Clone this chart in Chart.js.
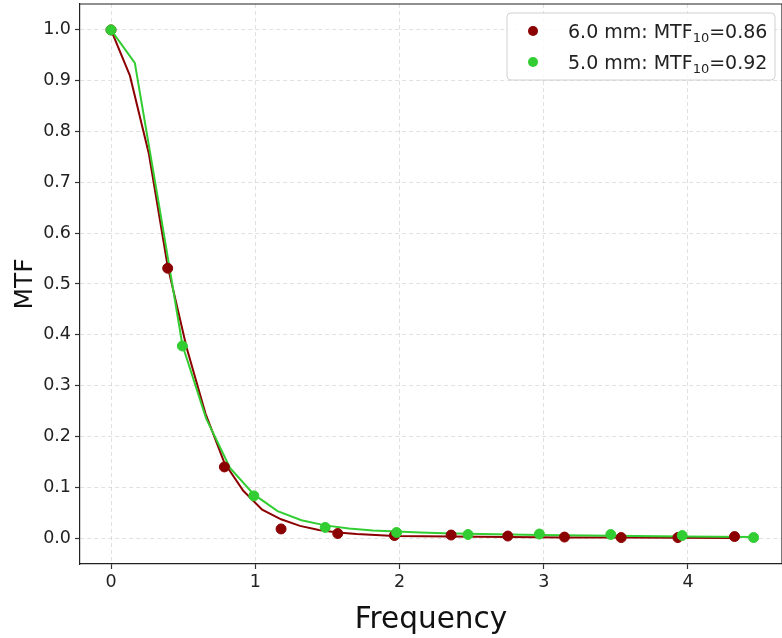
<!DOCTYPE html>
<html>
<head>
<meta charset="utf-8">
<script src="https://cdn.jsdelivr.net/npm/chart.js@4.4.0/dist/chart.umd.min.js"></script>
<style>
html,body{margin:0;padding:0;background:#fff;}
#wrap{width:782px;height:638px;}
</style>
</head>
<body>
<div id="wrap"><canvas id="c" width="782" height="638"></canvas></div>
<script>
// ---- data ----
const label6 = "6.0 mm: MTF\u2081\u2080=0.86";
const label5 = "5.0 mm: MTF\u2081\u2080=0.92";

const pts6X = [0, 0.393, 0.786, 1.179, 1.572, 1.965, 2.358, 2.751, 3.144, 3.537, 3.930, 4.323];
const pts6Y = [1.0, 0.531, 0.140, 0.018, 0.009, 0.005, 0.006, 0.004, 0.002, 0.001, 0.001, 0.003];

const pts5X = [0, 0.495, 0.990, 1.485, 1.980, 2.475, 2.970, 3.465, 3.960, 4.455];
const pts5Y = [1.0, 0.378, 0.083, 0.021, 0.011, 0.007, 0.008, 0.007, 0.005, 0.001];

const fit6X = [0, 0.131, 0.262, 0.393, 0.524, 0.655, 0.786, 0.917, 1.048, 1.179, 1.310, 1.441, 1.572, 1.703, 1.834, 1.965, 2.358, 2.751, 3.144, 3.537, 3.930, 4.323];
const fit6Y = [1.0, 0.910, 0.757, 0.535, 0.375, 0.245, 0.148, 0.093, 0.056, 0.037, 0.024, 0.016, 0.011, 0.008, 0.006, 0.004, 0.003, 0.002, 0.001, 0.001, 0.0005, 0.0003];

const fit5X = [0, 0.165, 0.330, 0.495, 0.660, 0.825, 0.990, 1.155, 1.320, 1.485, 1.650, 1.815, 1.980, 2.145, 2.310, 2.475, 2.970, 3.465, 3.960, 4.455];
const fit5Y = [1.0, 0.935, 0.660, 0.380, 0.235, 0.138, 0.086, 0.053, 0.035, 0.025, 0.019, 0.015, 0.013, 0.011, 0.0095, 0.0085, 0.006, 0.0045, 0.003, 0.002];

const xTicks = [0, 1, 2, 3, 4];
const yTicks = [0.0, 0.1, 0.2, 0.3, 0.4, 0.5, 0.6, 0.7, 0.8, 0.9, 1.0];

const RED = '#8B0000';
const GREEN = '#32CD32';

const zip = (xs, ys) => xs.map((x, i) => ({x: x, y: ys[i]}));

const framePlugin = {
  id: 'frame',
  afterDraw(chart) {
    const {ctx, chartArea: a} = chart;
    ctx.save();
    ctx.strokeStyle = '#222';
    ctx.lineWidth = 1.2;
    ctx.beginPath();
    ctx.moveTo(a.left, a.top);
    ctx.lineTo(a.right, a.top);
    ctx.lineTo(a.right, a.bottom);
    ctx.stroke();
    ctx.restore();
  }
};

const SUB = '\u2080\u2081\u2082\u2083\u2084\u2085\u2086\u2087\u2088\u2089';
function drawRich(ctx, text, x, y) {
  const runs = [];
  for (const ch of text) {
    const si = SUB.indexOf(ch);
    const sub = si >= 0;
    const c = sub ? String(si) : ch;
    if (runs.length && runs[runs.length - 1].sub === sub) runs[runs.length - 1].t += c;
    else runs.push({sub: sub, t: c});
  }
  let cx = x;
  runs.forEach(r => {
    ctx.font = r.sub ? '13px "DejaVu Sans"' : '19px "DejaVu Sans"';
    ctx.fillText(r.t, cx, r.sub ? y + 4 : y);
    cx += ctx.measureText(r.t).width;
  });
}

const legendPlugin = {
  id: 'boxLegend',
  afterDraw(chart) {
    const ctx = chart.ctx;
    const items = chart.data.datasets.filter(d => d.legendRank !== undefined)
      .sort((a, b) => a.legendRank - b.legendRank);
    const x0 = 507, y0 = 13, w = 268, h = 67, r = 4;
    ctx.save();
    ctx.beginPath();
    ctx.moveTo(x0 + r, y0);
    ctx.arcTo(x0 + w, y0, x0 + w, y0 + h, r);
    ctx.arcTo(x0 + w, y0 + h, x0, y0 + h, r);
    ctx.arcTo(x0, y0 + h, x0, y0, r);
    ctx.arcTo(x0, y0, x0 + w, y0, r);
    ctx.closePath();
    ctx.fillStyle = 'rgba(255,255,255,0.85)';
    ctx.fill();
    ctx.strokeStyle = '#d0d0d0';
    ctx.lineWidth = 1;
    ctx.stroke();
    items.forEach((d, i) => {
      const cy = 31 + i * 31;
      ctx.beginPath();
      ctx.arc(533, cy, 5, 0, Math.PI * 2);
      ctx.fillStyle = d.backgroundColor;
      ctx.fill();
      ctx.fillStyle = '#222';
      ctx.textBaseline = 'alphabetic';
      ctx.textAlign = 'left';
      drawRich(ctx, d.label, 568, cy + 7);
    });
    ctx.restore();
  }
};

const noPad = s => { s.paddingTop = 0; s.paddingBottom = 0; s.paddingLeft = 0; s.paddingRight = 0; };

new Chart(document.getElementById('c'), {
  type: 'scatter',
  data: {
    datasets: [
      {label: label5, data: zip(pts5X, pts5Y), backgroundColor: GREEN, borderColor: GREEN, pointRadius: 5, showLine: false, order: 0, legendRank: 1},
      {label: label6, data: zip(pts6X, pts6Y), backgroundColor: RED, borderColor: RED, pointRadius: 5, showLine: false, order: 1, legendRank: 0},
      {label: 'fit5', data: zip(fit5X, fit5Y), borderColor: GREEN, backgroundColor: GREEN, pointRadius: 0, showLine: true, borderWidth: 2, order: 2},
      {label: 'fit6', data: zip(fit6X, fit6Y), borderColor: RED, backgroundColor: RED, pointRadius: 0, showLine: true, borderWidth: 2, order: 3}
    ]
  },
  options: {
    responsive: false,
    animation: false,
    layout: {autoPadding: false, padding: {top: 4, right: 0, left: 0, bottom: 0}},
    plugins: {legend: {display: false}, tooltip: {enabled: false}},
    scales: {
      x: {
        type: 'linear',
        min: -0.215,
        max: 4.652,
        afterBuildTicks: s => { s.ticks = xTicks.map(v => ({value: v})); },
        afterFit: s => { s.height = 74; noPad(s); },
        ticks: {color: '#222', font: {family: 'DejaVu Sans', size: 17.5}, padding: 3, callback: v => String(v)},
        grid: {color: 'rgba(200,200,200,0.55)', lineWidth: 1, tickLength: 5, tickColor: '#333', tickWidth: 1.2, tickBorderDash: []},
        border: {color: '#222', width: 1.2, dash: [4, 3]},
        title: {display: true, text: 'Frequency', color: '#111', font: {family: 'DejaVu Sans', size: 29.5}, padding: {top: 8, bottom: 0}}
      },
      y: {
        type: 'linear',
        min: -0.051,
        max: 1.051,
        afterBuildTicks: s => { s.ticks = yTicks.map(v => ({value: v})); },
        afterFit: s => { s.width = 80; noPad(s); },
        ticks: {color: '#222', font: {family: 'DejaVu Sans', size: 17.5}, padding: 4, callback: v => v.toFixed(1)},
        grid: {color: 'rgba(200,200,200,0.55)', lineWidth: 1, tickLength: 5, tickColor: '#333', tickWidth: 1.2, tickBorderDash: []},
        border: {color: '#222', width: 1.2, dash: [4, 3]},
        title: {display: true, text: 'MTF', color: '#111', font: {family: 'DejaVu Sans', size: 25}, padding: {top: 10, bottom: 0}}
      }
    }
  },
  plugins: [framePlugin, legendPlugin]
});
</script>
</body>
</html>
